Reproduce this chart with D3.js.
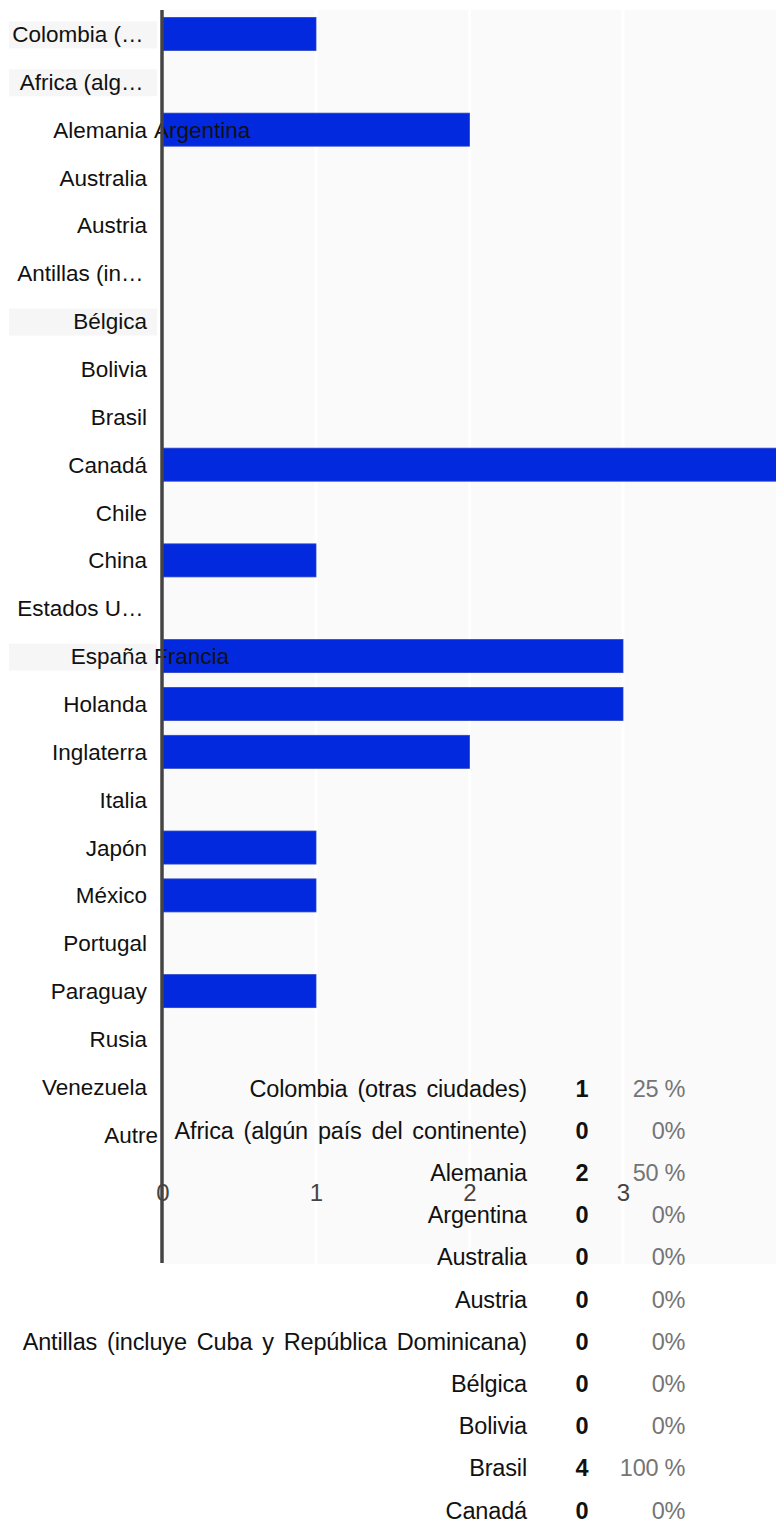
<!DOCTYPE html>
<html><head><meta charset="utf-8">
<script src="https://cdn.jsdelivr.net/npm/d3@7"></script>
<style>
body{margin:0;background:#fff;}
svg{display:block;font-family:"Liberation Sans",Arial,sans-serif;}
</style>
</head><body>
<svg id="c" width="776" height="1522"></svg>
<script>
// ---- data ----
const axisCategories = ["Colombia (otras ciudades)","Africa (algún país del continente)","Alemania","Australia","Austria","Antillas (incluye Cuba y República Dominicana)","Bélgica","Bolivia","Brasil","Canadá","Chile","China","Estados Unidos","España","Holanda","Inglaterra","Italia","Japón","México","Portugal","Paraguay","Rusia","Venezuela","Autre"];
const axisLabels = ["Colombia (…","Africa (alg…","Alemania","Australia","Austria","Antillas (in…","Bélgica","Bolivia","Brasil","Canadá","Chile","China","Estados U…","España","Holanda","Inglaterra","Italia","Japón","México","Portugal","Paraguay","Rusia","Venezuela","Autre"];
const overflowCategories = ["Alemania","España"];
const overflowLabels = ["Argentina","Francia"];
const barValues = [1,0,2,0,0,0,0,0,0,4,0,1,0,3,3,2,0,1,1,0,1,0,0,0];
const highlighted = ["Colombia (otras ciudades)","Africa (algún país del continente)","Bélgica","España"];
const xTicks = [0,1,2,3];

const tableCategories = ["Colombia (otras ciudades)","Africa (algún país del continente)","Alemania","Argentina","Australia","Austria","Antillas (incluye Cuba y República Dominicana)","Bélgica","Bolivia","Brasil","Canadá"];
const tableCounts = [1,0,2,0,0,0,0,0,0,4,0];
const tablePercents = ["25 %","0%","50 %","0%","0%","0%","0%","0%","0%","100 %","0%"];

// ---- layout ----
const svg = d3.select("#c");
const plotTop = 10, plotBottom = 1264, plotLeft = 162.5, plotRight = 776.5;
const step = 47.86;
const x = d3.scaleLinear().domain([0,4]).range([plotLeft, plotRight]);
const y = d3.scaleBand().domain(axisCategories)
  .range([plotTop, plotTop + step*axisCategories.length])
  .paddingInner(0.31).paddingOuter(0.155);

// plot background
svg.append("rect").attr("x", plotLeft).attr("y", plotTop)
  .attr("width", plotRight - plotLeft).attr("height", plotBottom - plotTop)
  .attr("fill", "#fafafa");

// gridlines
svg.append("g").selectAll("line").data([1,2,3]).join("line")
  .attr("x1", d => x(d)).attr("x2", d => x(d))
  .attr("y1", plotTop).attr("y2", plotBottom)
  .attr("stroke", "#ffffff").attr("stroke-width", 3);

// label highlight backgrounds
svg.append("g").selectAll("rect").data(highlighted).join("rect")
  .attr("x", 9).attr("width", 148)
  .attr("y", d => y(d) + y.bandwidth()/2 - 12.5).attr("height", 27)
  .attr("fill", "#f6f6f6");

// bars
const rows = axisCategories.map((c,i) => ({c, v: barValues[i], label: axisLabels[i]}));
svg.append("g").selectAll("rect").data(rows.filter(d => d.v > 0)).join("rect")
  .attr("x", x(0)).attr("y", d => y(d.c))
  .attr("width", d => x(d.v) - x(0)).attr("height", y.bandwidth())
  .attr("fill", "#0329df").attr("stroke", "#2a44c4").attr("stroke-width", 0.8);

// y labels
svg.append("g").selectAll("text").data(rows).join("text")
  .attr("x", d => d.c === "Autre" ? 158 : (d.label.endsWith("…") ? 143.5 : 147))
  .attr("y", d => y(d.c) + y.bandwidth()/2 + 8)
  .attr("text-anchor", "end")
  .attr("font-size", 22.5).attr("fill", "#111")
  .text(d => d.label);

svg.append("g").selectAll("text").data(overflowCategories).join("text")
  .attr("x", 154)
  .attr("y", d => y(d) + y.bandwidth()/2 + 8)
  .attr("font-size", 22.5).attr("fill", "#111")
  .text((d,i) => overflowLabels[i]);

// x axis tick labels
const xAxis = svg.append("g").attr("transform", "translate(0,1184)")
  .call(d3.axisBottom(x).tickValues(xTicks).tickSize(0).tickPadding(0).tickFormat(d3.format("d")));
xAxis.select(".domain").remove();
xAxis.selectAll("text").attr("font-size", 24).attr("fill", "#444")
  .attr("font-family", "'Liberation Sans',Arial,sans-serif");

// axis line (drawn over the tick label "0")
svg.append("line").attr("x1", 162).attr("x2", 162)
  .attr("y1", plotTop).attr("y2", plotBottom - 1)
  .attr("stroke", "#444").attr("stroke-width", 3.5);

// table
const ty = d3.scalePoint().domain(tableCategories).range([1088, 1510]);
const tg = svg.append("g");
const fs = 23.5;
tg.selectAll("text.lab").data(tableCategories).join("text").attr("class","lab")
  .attr("x", 527).attr("y", d => ty(d) + 8.5).attr("text-anchor","end")
  .attr("font-size", fs).attr("letter-spacing", -0.15).attr("word-spacing", 3.5)
  .attr("fill", "#111").text(d => d);
tg.selectAll("text.cnt").data(tableCategories).join("text").attr("class","cnt")
  .attr("x", 582).attr("y", d => ty(d) + 8.5).attr("text-anchor","middle")
  .attr("font-size", fs).attr("font-weight","bold").attr("fill", "#111")
  .text((d,i) => tableCounts[i]);
tg.selectAll("text.pct").data(tableCategories).join("text").attr("class","pct")
  .attr("x", 685).attr("y", d => ty(d) + 8.5).attr("text-anchor","end")
  .attr("font-size", fs).attr("letter-spacing", -0.3).attr("fill", "#757575")
  .text((d,i) => tablePercents[i]);
</script>
</body></html>
